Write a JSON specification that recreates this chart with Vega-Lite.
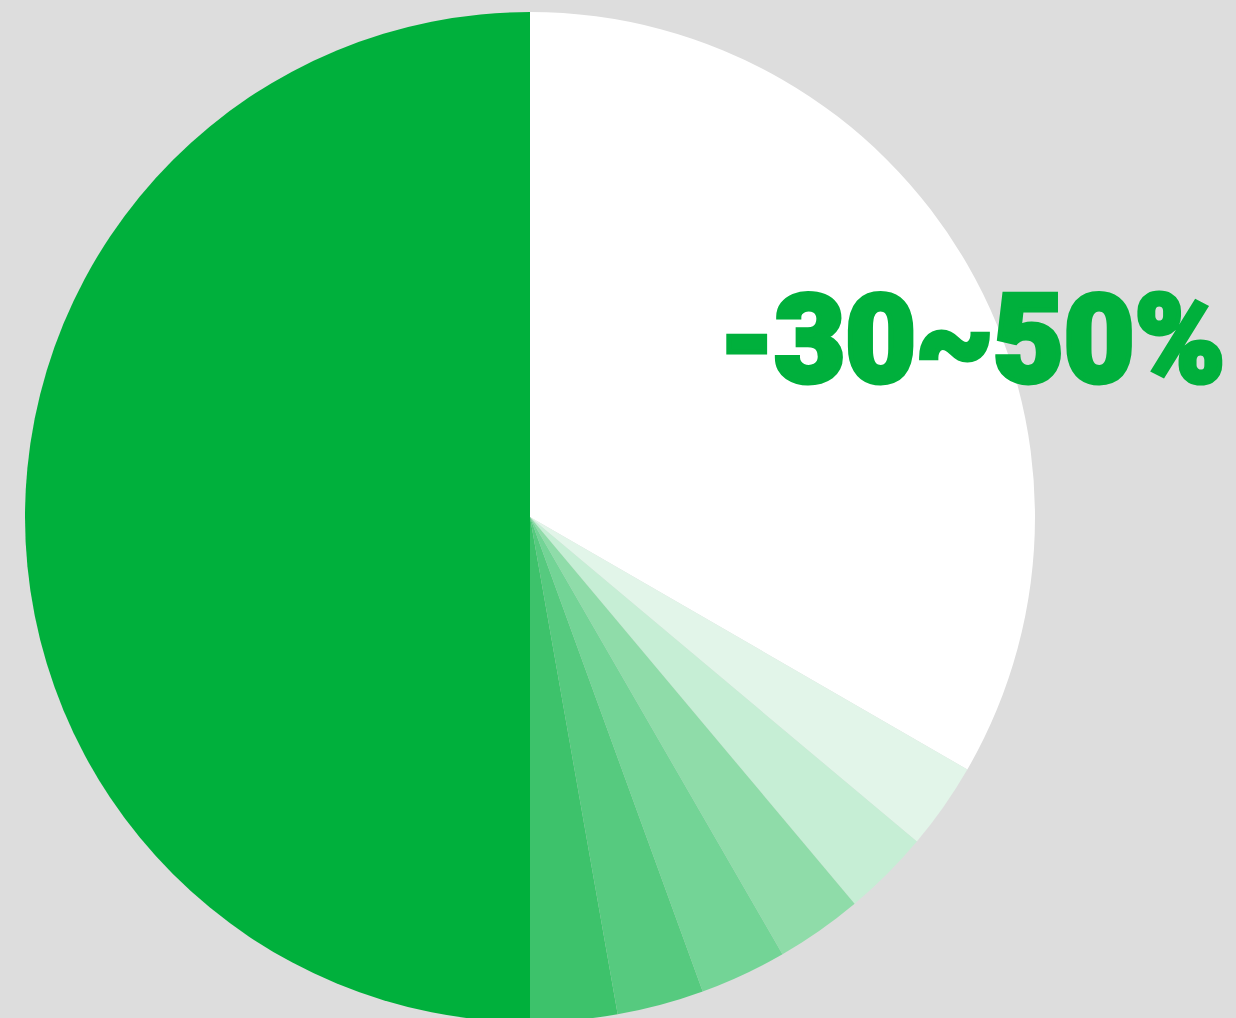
{
  "$schema": "https://vega.github.io/schema/vega-lite/v6.json",
  "width": 1060,
  "height": 1034,
  "autosize": {"type": "none"},
  "padding": {"left": 0, "top": 0, "right": 176, "bottom": 0},
  "background": "#dddddd",
  "config": {"view": {"stroke": null}},
  "data": {
    "values": [
      {"seg": "A", "order": 1, "value": 12, "label": "-30~50%"},
      {"seg": "B", "order": 2, "value": 1, "label": ""},
      {"seg": "C", "order": 3, "value": 1, "label": ""},
      {"seg": "D", "order": 4, "value": 1, "label": ""},
      {"seg": "E", "order": 5, "value": 1, "label": ""},
      {"seg": "F", "order": 6, "value": 1, "label": ""},
      {"seg": "G", "order": 7, "value": 1, "label": ""},
      {"seg": "H", "order": 8, "value": 18, "label": ""}
    ]
  },
  "encoding": {
    "theta": {"field": "value", "type": "quantitative", "stack": true},
    "order": {"field": "order", "type": "quantitative"}
  },
  "layer": [
    {
      "mark": {"type": "arc", "outerRadius": 505, "stroke": null},
      "encoding": {
        "color": {
          "field": "seg",
          "type": "nominal",
          "legend": null,
          "scale": {
            "domain": ["A", "B", "C", "D", "E", "F", "G", "H"],
            "range": ["#ffffff", "#e2f5e9", "#c6eed5", "#8fdca9", "#73d496", "#56ca7f", "#3dc26b", "#00b03c"]
          }
        }
      }
    },
    {
      "mark": {
        "type": "text",
        "radius": 475,
        "dx": 31,
        "dy": 102,
        "align": "center",
        "baseline": "alphabetic",
        "font": "Roboto",
        "fontWeight": 900,
        "fontSize": 122,
        "color": "#00b03c",
        "stroke": "#00b03c",
        "strokeWidth": 5,
        "strokeJoin": "miter"
      },
      "encoding": {
        "text": {"field": "label", "type": "nominal"}
      }
    }
  ]
}
